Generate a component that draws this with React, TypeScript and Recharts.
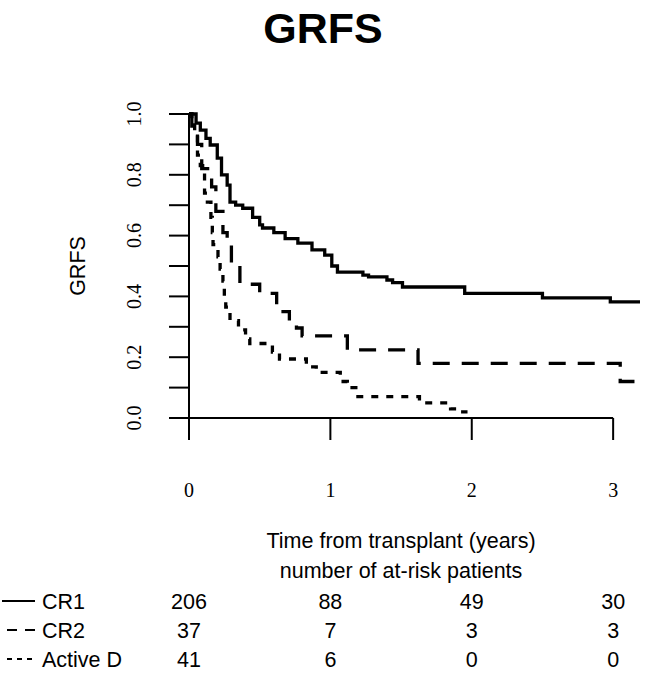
import React from "react";
import { LineChart, Line, XAxis, YAxis, ReferenceLine } from "recharts";

// Kaplan-Meier style GRFS curves
const cr1Time = [0, 0.05, 0.08, 0.12, 0.15, 0.2, 0.23, 0.27, 0.29, 0.33, 0.38, 0.45, 0.5, 0.52, 0.6, 0.68, 0.77, 0.87, 0.96, 1.01, 1.05, 1.23, 1.27, 1.4, 1.44, 1.51, 1.95, 2.5, 2.98, 3.19];
const cr1Surv = [1, 0.97, 0.947, 0.92, 0.898, 0.855, 0.8, 0.766, 0.71, 0.7, 0.69, 0.66, 0.635, 0.625, 0.61, 0.59, 0.575, 0.553, 0.536, 0.5, 0.48, 0.47, 0.464, 0.454, 0.445, 0.431, 0.41, 0.395, 0.382, 0.382];

const cr2Time = [0, 0.02, 0.06, 0.09, 0.16, 0.19, 0.24, 0.27, 0.3, 0.36, 0.5, 0.62, 0.71, 0.76, 0.8, 1.12, 1.62, 3.05, 3.19];
const cr2Surv = [1, 0.96, 0.9, 0.82, 0.76, 0.68, 0.61, 0.57, 0.51, 0.44, 0.41, 0.35, 0.31, 0.296, 0.27, 0.224, 0.18, 0.12, 0.12];

const activeTime = [0, 0.02, 0.04, 0.06, 0.08, 0.11, 0.13, 0.155, 0.165, 0.17, 0.205, 0.22, 0.24, 0.25, 0.26, 0.29, 0.35, 0.4, 0.43, 0.59, 0.64, 0.83, 0.9, 1.07, 1.12, 1.18, 1.63, 1.85, 1.91, 1.97];
const activeSurv = [1, 0.98, 0.93, 0.865, 0.83, 0.74, 0.71, 0.66, 0.61, 0.57, 0.53, 0.49, 0.45, 0.4, 0.365, 0.32, 0.29, 0.26, 0.245, 0.217, 0.194, 0.168, 0.15, 0.12, 0.1, 0.07, 0.05, 0.03, 0.02, 0.02];

const xTicks = [0, 1, 2, 3];
const yTicks = [0, 0.1, 0.2, 0.3, 0.4, 0.5, 0.6, 0.7, 0.8, 0.9, 1];

const groupNames = ["CR1", "CR2", "Active D"];
const riskCR1 = [206, 88, 49, 30];
const riskCR2 = [37, 7, 3, 3];
const riskActive = [41, 6, 0, 0];

const toPoints = (t: number[], s: number[]) => t.map((v, i) => ({ t: v, s: s[i] }));

const W = 656;
const H = 678;
const PLOT_LEFT = 189;
const PLOT_RIGHT = 640;
const PLOT_TOP = 114;
const PLOT_BOTTOM = 418;
const X_MAX = 3.19;
const Y_AXIS_W = 60;
const X_AXIS_H = 60;

const SANS = "'Liberation Sans', Arial, Helvetica, sans-serif";
const SERIF = "'Liberation Serif', 'Times New Roman', serif";

const xPx = (t: number) => PLOT_LEFT + (t / X_MAX) * (PLOT_RIGHT - PLOT_LEFT);

const dashes = ["", "17 12", "7 8"];
const legendDashes = ["", "10 8", "5 5"];
const riskRows = [riskCR1, riskCR2, riskActive];
const rowBaselines = [609, 638, 667];

const YTick = (props: any) => {
  const { x, y, payload } = props;
  const v = payload.value as number;
  if (Math.round(v * 10) % 2 !== 0) return <g />;
  return (
    <text
      x={x}
      y={y}
      transform={`rotate(-90, ${x}, ${y})`}
      textAnchor="middle"
      fontFamily={SERIF}
      fontSize={20}
      fill="#000"
    >
      {v.toFixed(1)}
    </text>
  );
};

export default function App() {
  const series = [
    toPoints(cr1Time, cr1Surv),
    toPoints(cr2Time, cr2Surv),
    toPoints(activeTime, activeSurv),
  ];

  return (
    <div style={{ position: "absolute", left: 0, top: 0, width: W, height: H, background: "#fff" }}>
      <LineChart
        width={W}
        height={H}
        margin={{
          top: PLOT_TOP,
          right: W - PLOT_RIGHT,
          bottom: H - PLOT_BOTTOM - X_AXIS_H,
          left: PLOT_LEFT - Y_AXIS_W,
        }}
      >
        <XAxis
          type="number"
          dataKey="t"
          domain={[0, X_MAX]}
          ticks={xTicks}
          interval={0}
          height={X_AXIS_H}
          axisLine={false}
          tickLine={{ stroke: "#000", strokeWidth: 2 }}
          tickSize={22}
          tickMargin={43}
          tick={{ fill: "#000", fontSize: 20, fontFamily: SERIF }}
          allowDataOverflow
        />
        <YAxis
          type="number"
          domain={[0, 1]}
          ticks={yTicks}
          interval={0}
          width={Y_AXIS_W}
          axisLine={{ stroke: "#000", strokeWidth: 2 }}
          tickLine={{ stroke: "#000", strokeWidth: 2 }}
          tickSize={20}
          tickMargin={28}
          tick={<YTick />}
        />
        <ReferenceLine
          segment={[
            { x: 0, y: 0 },
            { x: 3, y: 0 },
          ]}
          stroke="#000"
          strokeWidth={2}
        />
        {series.map((d, i) => (
          <Line
            key={groupNames[i]}
            data={d}
            dataKey="s"
            type="stepAfter"
            stroke="#000"
            strokeWidth={3.3}
            strokeDasharray={dashes[i] || undefined}
            dot={false}
            activeDot={false}
            isAnimationActive={false}
          />
        ))}
      </LineChart>

      <svg
        width={W}
        height={H}
        style={{ position: "absolute", left: 0, top: 0, pointerEvents: "none" }}
      >
        <text x={323} y={43} textAnchor="middle" fontFamily={SANS} fontWeight="bold" fontSize={43} fill="#000">
          GRFS
        </text>
        <text
          transform={`translate(85, ${(PLOT_TOP + PLOT_BOTTOM) / 2}) rotate(-90)`}
          textAnchor="middle"
          fontFamily={SANS}
          fontSize={21.5}
          fill="#000"
        >
          GRFS
        </text>
        <text x={(xPx(0) + xPx(3)) / 2} y={548} textAnchor="middle" fontFamily={SANS} fontSize={21.5} fill="#000">
          Time from transplant (years)
        </text>
        <text x={(xPx(0) + xPx(3)) / 2} y={578} textAnchor="middle" fontFamily={SANS} fontSize={21.5} fill="#000">
          number of at-risk patients
        </text>
        {groupNames.map((name, i) => (
          <g key={name}>
            <line
              x1={i === 0 ? 2 : 7}
              x2={i === 2 ? 32 : 35}
              y1={rowBaselines[i] - 8}
              y2={rowBaselines[i] - 8}
              stroke="#000"
              strokeWidth={2}
              strokeDasharray={legendDashes[i] || undefined}
            />
            <text x={42} y={rowBaselines[i]} fontFamily={SANS} fontSize={21.5} fill="#000">
              {name}
            </text>
            {riskRows[i].map((n, j) => (
              <text
                key={j}
                x={xPx(xTicks[j])}
                y={rowBaselines[i]}
                textAnchor="middle"
                fontFamily={SANS}
                fontSize={21.5}
                fill="#000"
              >
                {n}
              </text>
            ))}
          </g>
        ))}
      </svg>
    </div>
  );
}
